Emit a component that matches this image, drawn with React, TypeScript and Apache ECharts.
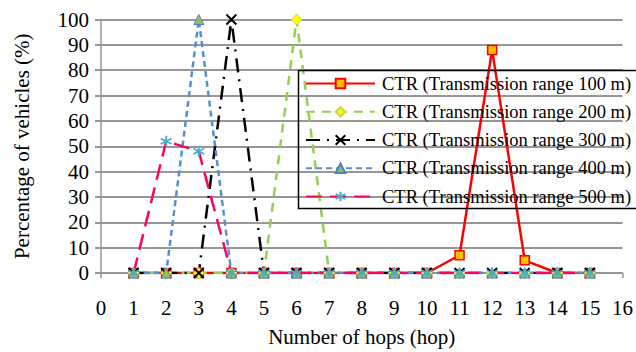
import React, { useEffect, useRef } from "react";
import * as echarts from "echarts";

const hops = [1, 2, 3, 4, 5, 6, 7, 8, 9, 10, 11, 12, 13, 14, 15];
const range100 = [0, 0, 0, 0, 0, 0, 0, 0, 0, 0, 7, 88, 5, 0, 0];
const range200 = [0, 0, 0, 0, 0, 100, 0, 0, 0, 0, 0, 0, 0, 0, 0];
const range300 = [0, 0, 0, 100, 0, 0, 0, 0, 0, 0, 0, 0, 0, 0, 0];
const range400 = [0, 0, 100, 0, 0, 0, 0, 0, 0, 0, 0, 0, 0, 0, 0];
const range500 = [0, 52, 48, 0, 0, 0, 0, 0, 0, 0, 0, 0, 0, 0, 0];
const seriesNames = [
  "CTR (Transmission range 100 m)",
  "CTR (Transmission range 200 m)",
  "CTR (Transmission range 300 m)",
  "CTR (Transmission range 400 m)",
  "CTR (Transmission range 500 m)",
];

const FONT = "'Liberation Serif', 'Times New Roman', serif";

const pairs = (ys: number[]) => hops.map((x, i) => [x, ys[i]]);

export default function App() {
  const ref = useRef<HTMLDivElement>(null);
  useEffect(() => {
    if (!ref.current) return;
    const chart = echarts.init(ref.current, undefined, { renderer: "svg" });
    const gridColor = "#969696";
    chart.setOption({
      animation: false,
      backgroundColor: "#fff",
      grid: { left: 101, right: 11.5, top: 19.5, bottom: 75.3 },
      xAxis: {
        type: "value",
        min: 0,
        max: 16,
        interval: 1,
        name: "Number of hops (hop)",
        nameLocation: "middle",
        nameGap: 53,
        nameTextStyle: { fontFamily: FONT, fontSize: 21, color: "#000" },
        axisLine: { show: true, lineStyle: { color: gridColor, width: 1.5 } },
        axisTick: { show: true, length: 5, lineStyle: { color: gridColor, width: 1.5 } },
        axisLabel: { fontFamily: FONT, fontSize: 21, color: "#000", margin: 24 },
        splitLine: { show: false },
      },
      yAxis: {
        type: "value",
        min: 0,
        max: 100,
        interval: 10,
        name: "Percentage of vehicles (%)",
        nameLocation: "middle",
        nameGap: 69,
        nameTextStyle: { fontFamily: FONT, fontSize: 21, color: "#000" },
        axisLine: { show: true, lineStyle: { color: gridColor, width: 1.5 } },
        axisTick: { show: true, length: 6, lineStyle: { color: gridColor, width: 2 } },
        axisLabel: { fontFamily: FONT, fontSize: 21, color: "#000", margin: 12 },
        splitLine: { show: true, lineStyle: { color: gridColor, width: 2 } },
      },
      legend: {
        orient: "vertical",
        left: 296,
        top: 68,
        padding: [6, 0, 0, 9],
        itemGap: 9.25,
        itemWidth: 69,
        itemHeight: 12,
        borderWidth: 0,
        backgroundColor: "transparent",
        textStyle: { fontFamily: FONT, fontSize: 18.5, color: "#000", lineHeight: 18, padding: [0, 0, 0, 2] },
        data: seriesNames,
      },
      graphic: [
        {
          type: "rect",
          left: 296,
          top: 68,
          z: 10,
          shape: { width: 400, height: 138 },
          style: { fill: "none", stroke: "#000", lineWidth: 1.5 },
        },
      ],
      series: [
        {
          name: seriesNames[0],
          type: "line",
          data: pairs(range100),
          symbol: "rect",
          symbolSize: 9,
          lineStyle: { color: "#FF0000", width: 2.5, type: "solid" },
          itemStyle: { color: "#FFC000", borderColor: "#FF0000", borderWidth: 1.5 },
        },
        {
          name: seriesNames[1],
          type: "line",
          data: pairs(range200),
          symbol: "diamond",
          symbolSize: 11,
          lineStyle: { color: "#92D050", width: 2.5, type: [9, 7] },
          itemStyle: { color: "#FFFF00", borderColor: "#C8D850", borderWidth: 1 },
        },
        {
          name: seriesNames[2],
          type: "line",
          data: pairs(range300),
          symbol: "path://M0,0L10,10M10,0L0,10",
          symbolSize: 10,
          lineStyle: { color: "#000000", width: 2.5, type: [14, 7, 2, 7] },
          itemStyle: { color: "#000000", borderColor: "#000000", borderWidth: 1.8 },
        },
        {
          name: seriesNames[3],
          type: "line",
          data: pairs(range400),
          symbol: "triangle",
          symbolSize: 10,
          lineStyle: { color: "#558ED5", width: 2.5, type: [6, 4] },
          itemStyle: { color: "#9BBB59", borderColor: "#4F81BD", borderWidth: 1 },
        },
        {
          name: seriesNames[4],
          type: "line",
          data: pairs(range500),
          symbol: "path://M5,0L5,10M0.7,2.5L9.3,7.5M0.7,7.5L9.3,2.5",
          symbolSize: 11,
          lineStyle: { color: "#FF0066", width: 2.5, type: [16, 8] },
          itemStyle: { color: "#4BACC6", borderColor: "#4BACC6", borderWidth: 1.8 },
        },
      ],
    });
    return () => chart.dispose();
  }, []);
  return <div ref={ref} style={{ width: 636, height: 352, position: "absolute", left: 0, top: 0 }} />;
}
